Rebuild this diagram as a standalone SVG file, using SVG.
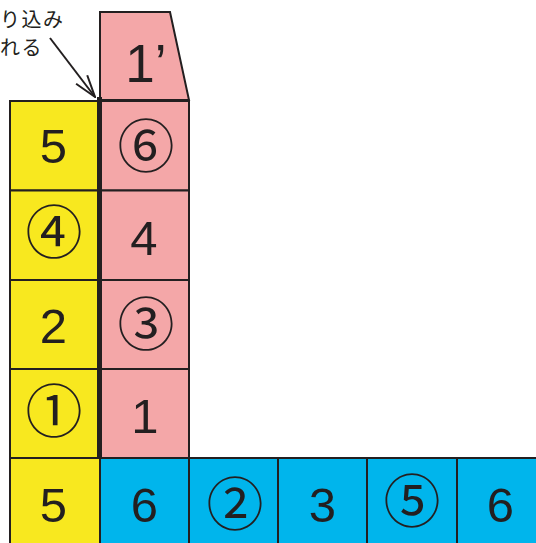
<svg xmlns="http://www.w3.org/2000/svg" width="536" height="543" viewBox="0 0 536 543">
<style>
.y{fill:#f8e81f;stroke:#231f20;stroke-width:2}
.p{fill:#f4a7a8;stroke:#231f20;stroke-width:2}
.b{fill:#00b5ec;stroke:#231f20;stroke-width:2}
.n{font-family:"Liberation Sans",Arial,sans-serif;font-size:49px;fill:#231f20;text-anchor:middle}
.c{font-family:"Noto Sans CJK JP",sans-serif;font-size:57px;fill:#231f20;text-anchor:middle}
.j{font-family:"Noto Sans CJK JP",sans-serif;font-size:20px;fill:#231f20;letter-spacing:1.5px}
</style>
<defs>
<marker id="ah" viewBox="0 0 24 16" refX="23" refY="8" markerWidth="24" markerHeight="16" markerUnits="userSpaceOnUse" orient="auto">
<path d="M1 1 L23 8 L1 15" fill="none" stroke="#231f20" stroke-width="2"/>
</marker>
</defs>
<g id="label">
<text class="j" x="0" y="27">り込み</text>
<text class="j" x="0" y="55">れる</text>
</g>
<g id="connectors">
<line x1="50" y1="38" x2="95" y2="97" stroke="#231f20" stroke-width="2" marker-end="url(#ah)"/>
</g>
<g id="yellow">
<rect class="y" x="10" y="101" width="88" height="89.5"/>
<rect class="y" x="10" y="190.5" width="88" height="89.5"/>
<rect class="y" x="10" y="280" width="88" height="89"/>
<rect class="y" x="10" y="369" width="88" height="89"/>
<rect class="y" x="10" y="458" width="90" height="89"/>
<text class="n" x="53.5" y="163">5</text>
<text class="c" x="54" y="253">④</text>
<text class="n" x="53.5" y="343">2</text>
<text class="c" x="54" y="432">①</text>
<text class="n" x="53.5" y="522">5</text>
</g>
<g id="pink">
<path class="p" d="M100 12 L170 12 L189 100 L100 100 Z"/>
<text class="n" x="146" y="82" style="font-size:53px">1’</text>
<rect class="p" x="101" y="101" width="88" height="89.5"/>
<rect class="p" x="101" y="190.5" width="88" height="89.5"/>
<rect class="p" x="101" y="280" width="88" height="89"/>
<rect class="p" x="101" y="369" width="88" height="89"/>
<text class="c" x="146" y="167">⑥</text>
<text class="n" x="144" y="255">4</text>
<text class="c" x="146" y="345">③</text>
<text class="n" x="145" y="433">1</text>
</g>
<rect id="bar" x="97" y="97" width="5" height="361" fill="#231f20"/>
<g id="blue">
<rect class="b" x="100" y="458" width="89" height="89"/>
<rect class="b" x="189" y="458" width="89" height="89"/>
<rect class="b" x="278" y="458" width="89" height="89"/>
<rect class="b" x="367" y="458" width="90" height="89"/>
<rect class="b" x="457" y="458" width="89" height="89"/>
<text class="n" x="144.5" y="522">6</text>
<text class="c" x="235" y="525">②</text>
<text class="n" x="322.5" y="522">3</text>
<text class="c" x="412" y="522">⑤</text>
<text class="n" x="500.5" y="522">6</text>
</g>
</svg>
